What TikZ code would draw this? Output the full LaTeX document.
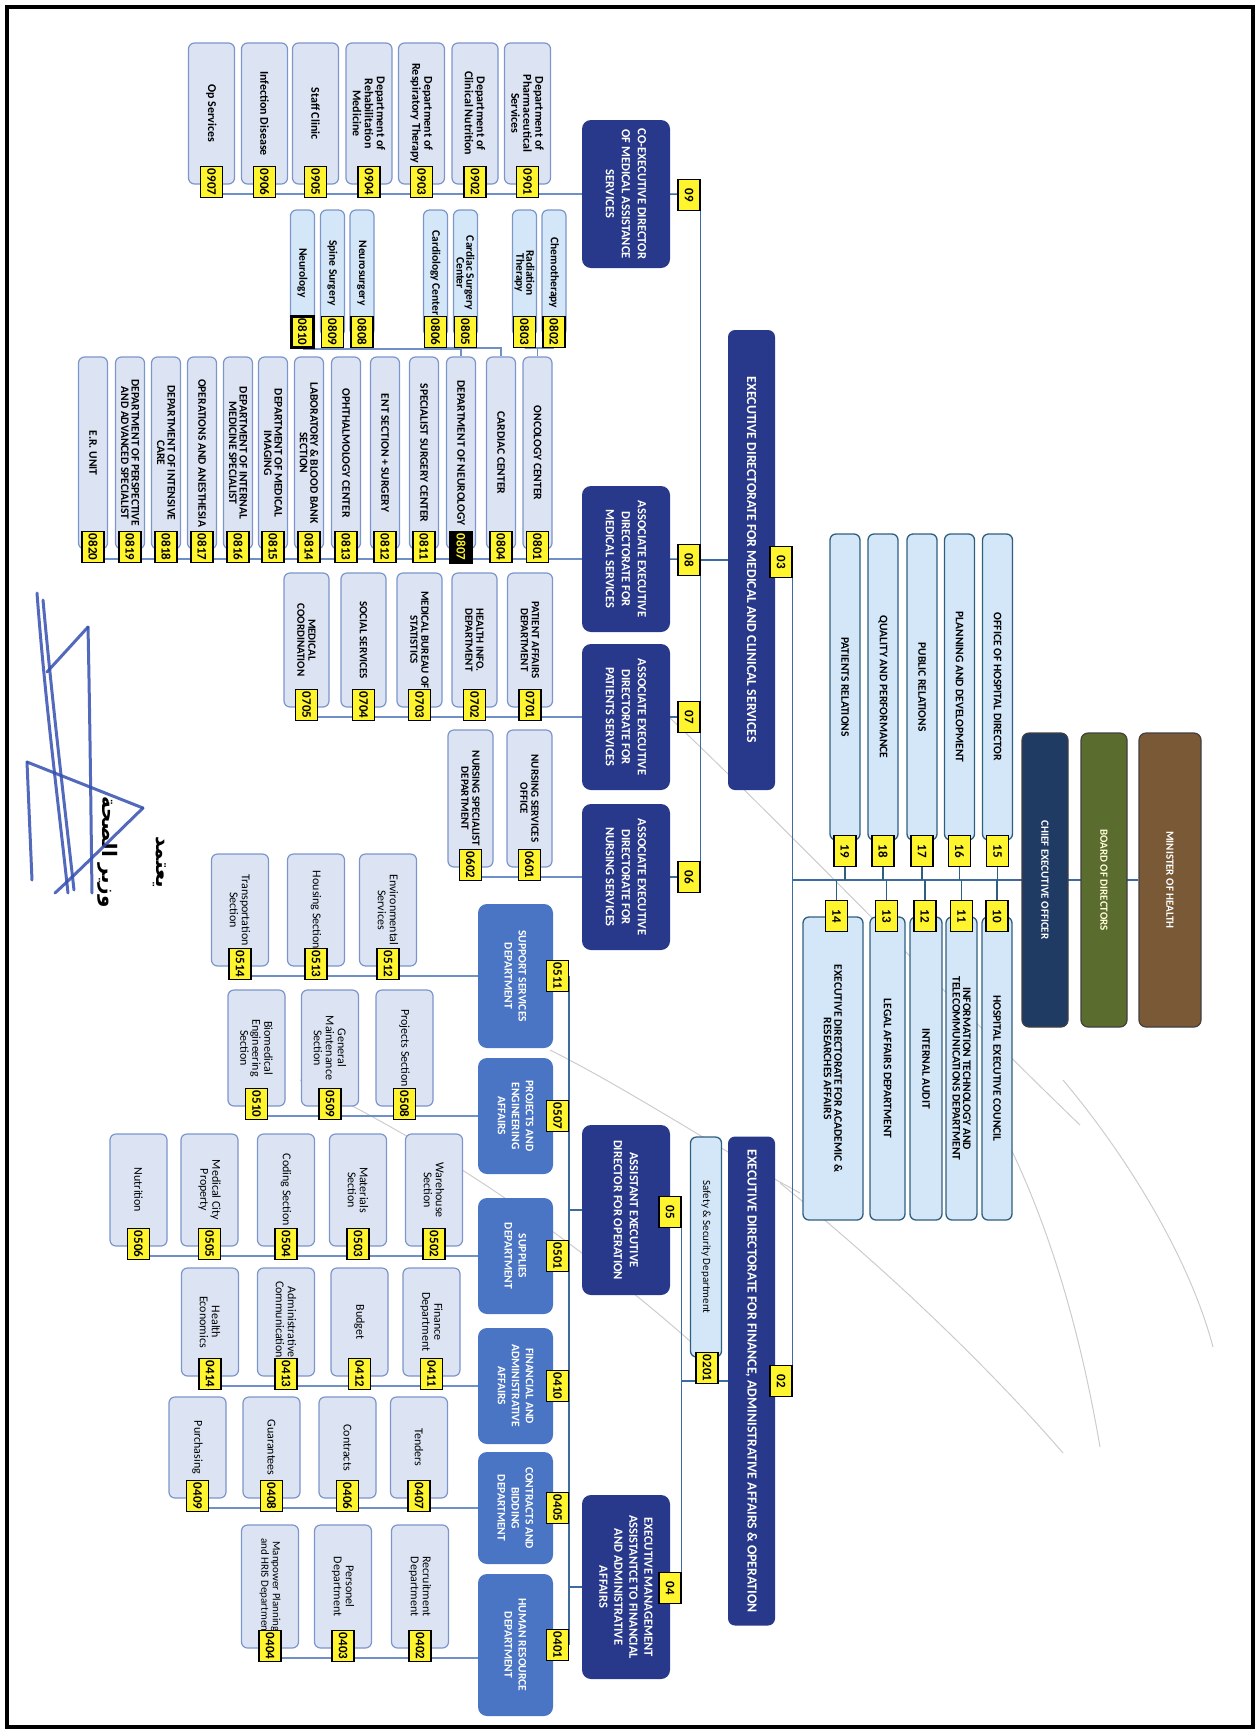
\documentclass[tikz,border=0pt]{standalone}
\usepackage{fontspec}
\setmainfont{Carlito}
\newfontfamily\arabicfont[Script=Arabic]{DejaVu Sans}
\TeXXeTstate=1
\usetikzlibrary{backgrounds}
\definecolor{navy}{HTML}{28388A}
\definecolor{ceoblue}{HTML}{1F3A63}
\definecolor{boardgreen}{HTML}{5A6C2E}
\definecolor{minbrown}{HTML}{7A5936}
\definecolor{midblue}{HTML}{4A74C4}
\definecolor{unitfill}{HTML}{DCE4F4}
\definecolor{unitline}{HTML}{7C95CB}
\definecolor{subfill}{HTML}{D4E7F8}
\definecolor{stafffill}{HTML}{D3E7F8}
\definecolor{staffline}{HTML}{2F5F80}
\definecolor{tagyellow}{HTML}{FFF52E}
\definecolor{linkblue}{HTML}{3E6A9E}
\definecolor{lowlink}{HTML}{6F8FC8}
\definecolor{inkblue}{HTML}{3550B0}

\begin{document}
\begin{tikzpicture}[x=1pt, y=1pt,
  top/.style={rotate=-90, draw=black!75, line width=1.2pt, rounded corners=7pt,
    text=white, align=center, inner sep=1pt,
    font=\fontsize{11}{12}\selectfont\bfseries},
  head/.style={rotate=-90, fill=navy, rounded corners=7pt, text=white,
    align=center, inner sep=1pt, font=\fontsize{13.8}{15}\selectfont\bfseries},
  dir/.style={rotate=-90, fill=navy, rounded corners=9pt, text=white,
    align=center, inner sep=1pt, minimum height=88pt,
    font=\fontsize{12.5}{16}\selectfont\bfseries},
  sec/.style={rotate=-90, fill=midblue, rounded corners=9pt, text=white,
    align=center, inner sep=1pt, minimum height=75pt,
    font=\fontsize{11.5}{14}\selectfont\bfseries},
  staff/.style={rotate=-90, draw=staffline, fill=stafffill, line width=1.3pt,
    rounded corners=6pt, align=center, inner sep=1pt,
    font=\fontsize{11.5}{10.5}\selectfont\bfseries},
  unit/.style={rotate=-90, draw=unitline, fill=unitfill, line width=1.2pt,
    rounded corners=6pt, align=center, inner sep=1pt,
    font=\fontsize{11.5}{10.5}\selectfont\bfseries},
  subunit/.style={unit, fill=subfill, minimum width=126pt, minimum height=24pt,
    font=\fontsize{11.5}{9.8}\selectfont\bfseries},
  section/.style={unit, minimum height=57pt,
    font=\fontsize{12}{12}\selectfont},
  tag/.style={rotate=-90, draw=black, fill=tagyellow, line width=1.2pt,
    inner sep=0pt, minimum width=31pt, minimum height=22pt,
    font=\fontsize{13}{13}\selectfont\bfseries},
  hltag/.style={tag, line width=3.2pt},
  darktag/.style={tag, fill=black, text=tagyellow, line width=2pt},
  link/.style={draw=linkblue, line width=1.5pt},
  lowl/.style={draw=lowlink, line width=1.5pt},
  scan/.style={draw=gray!40, line width=1pt},
  sig/.style={draw=inkblue, line width=3pt, line cap=round, line join=round, opacity=0.85}
]
\useasboundingbox (0,0) rectangle (1260,-1733);

% Top of the chart
\node[top, fill=minbrown, minimum width=294pt, minimum height=62pt] (moh) at (1170,-880) {MINISTER OF HEALTH};
\node[top, fill=boardgreen, minimum width=294pt, minimum height=46pt, text=white!85!yellow] (bod) at (1104,-880) {BOARD OF DIRECTORS};
\node[top, fill=ceoblue, minimum width=294pt, minimum height=46pt] (ceo) at (1045,-880) {CHIEF EXECUTIVE OFFICER};

% Offices attached to the CEO
\foreach \n/\cx/\txt in {15/997.5/{OFFICE OF HOSPITAL DIRECTOR}, 16/959.5/{PLANNING AND DEVELOPMENT},
    17/922/{PUBLIC RELATIONS}, 18/883/{QUALITY AND PERFORMANCE}, 19/845/{PATIENTS RELATIONS}} {
  \node[staff, minimum width=306pt, minimum height=30pt] (s\n) at (\cx,-687) {\txt};
  \node[tag] (t\n) at (\cx,-851) {\n};
}
\foreach \n/\cx/\bh/\txt in {10/997/30/{HOSPITAL EXECUTIVE COUNCIL},
    11/961.5/31/{INFORMATION TECHNOLOGY AND\\TELECOMMUNICATIONS DEPARTMENT},
    12/926/32/{INTERNAL AUDIT}, 13/887.5/35/{LEGAL AFFAIRS DEPARTMENT},
    14/833/60/{EXECUTIVE DIRECTORATE FOR ACADEMIC \&\\RESEARCHES AFFAIRS}} {
  \node[staff, minimum width=303pt, minimum height=\bh pt] (s\n) at (\cx,-1068.5) {\txt};
}
\foreach \n/\cx in {10/997, 11/961.5, 12/925, 13/886.5, 14/836.5}
  \node[tag] (t\n) at (\cx,-916) {\n};

% Executive directorates
\node[head, minimum width=460pt, minimum height=47pt] (b03) at (751.5,-560)
  {EXECUTIVE DIRECTORATE FOR MEDICAL AND CLINICAL SERVICES};
\node[tag] (t03) at (781,-562) {03};
\node[head, minimum width=489pt, minimum height=47pt] (b02) at (751.5,-1381)
  {EXECUTIVE DIRECTORATE FOR FINANCE, ADMINISTRATIVE AFFAIRS \& OPERATION};
\node[tag] (t02) at (781,-1381) {02};

% Medical side directorates
\node[dir, minimum width=148pt] (b09) at (626,-194) {CO-EXECUTIVE DIRECTOR\\OF MEDICAL ASSISTANCE\\SERVICES};
\node[tag] (t09) at (689,-195) {09};
\node[dir, minimum width=146pt] (b08) at (626,-559) {ASSOCIATE EXECUTIVE\\DIRECTORATE FOR\\MEDICAL SERVICES};
\node[tag] (t08) at (689,-560) {08};
\node[dir, minimum width=146pt] (b07) at (626,-717) {ASSOCIATE EXECUTIVE\\DIRECTORATE FOR\\PATIENTS SERVICES};
\node[tag] (t07) at (689,-717) {07};
\node[dir, minimum width=146pt] (b06) at (626,-877) {ASSOCIATE EXECUTIVE\\DIRECTORATE FOR\\NURSING SERVICES};
\node[tag] (t06) at (689,-877) {06};

% Finance side directorates
\node[staff, fill=subfill, minimum width=220pt, minimum height=31pt, font=\fontsize{11}{11}\selectfont] (b0201) at (706,-1247) {Safety \& Security Department};
\node[tag] (t0201) at (707,-1368) {0201};
\node[dir, minimum width=170pt] (b05) at (626,-1210) {ASSISTANT EXECUTIVE\\DIRECTOR FOR OPERATION};
\node[tag] (t05) at (670,-1212) {05};
\node[dir, minimum width=184pt, font=\fontsize{12.5}{15}\selectfont\bfseries] (b04) at (626,-1587)
  {EXECUTIVE MANAGEMENT\\ASSISTANTCE TO FINANCIAL\\AND ADMINISTRATIVE\\AFFAIRS};
\node[tag] (t04) at (670,-1588) {04};

% Medical assistance services
\foreach \code/\cx/\txt in {0907/211.5/{Op Services}, 0906/264.5/{Infection Disease},
    0905/315.5/{Staff Clinic}, 0904/369/{Department of\\Rehabilitation\\Medicine},
    0903/421.5/{Department of\\Respiratory Therapy}, 0902/475/{Department of\\Clinical Nutrition},
    0901/527.5/{Department of\\Pharmaceutical\\Services}} {
  \node[unit, minimum width=141pt, minimum height=46pt, font=\fontsize{12}{12}\selectfont\bfseries] (b\code) at (\cx,-113.5) {\txt};
  \node[tag] (t\code) at (\cx,-182) {\code};
}

% Medical services
\foreach \code/\cx/\tg/\txt in {0801/537.5/tag/{ONCOLOGY CENTER}, 0804/501/tag/{CARDIAC CENTER},
    0807/461/darktag/{DEPARTMENT OF NEUROLOGY}, 0811/424/tag/{SPECIALIST SURGERY CENTER},
    0812/385/tag/{ENT SECTION + SURGERY}, 0813/346/tag/{OPHTHALMOLOGY CENTER},
    0814/309/tag/{LABORATORY \& BLOOD BANK\\SECTION}, 0815/273/tag/{DEPARTMENT OF MEDICAL\\IMAGING},
    0816/238/tag/{DEPARTMENT OF INTERNAL\\MEDICINE SPECIALIST}, 0817/202/tag/{OPERATIONS AND ANESTHESIA},
    0818/166/tag/{DEPARTMENT OF INTENSIVE\\CARE}, 0819/130/tag/{DEPARTMENT OF PERSPECTIVE\\AND ADVANCED SPECIALIST},
    0820/93/tag/{E.R. UNIT}} {
  \node[unit, minimum width=192pt, minimum height=29pt] (b\code) at (\cx,-453) {\txt};
  \node[\tg] (t\code) at (\cx,-547) {\code};
}
\foreach \code/\cx/\tg/\txt in {0802/554/tag/{Chemotherapy}, 0803/524.5/tag/{Radiation\\Therapy},
    0805/465.5/tag/{Cardiac Surgery\\Center}, 0806/435.5/tag/{Cardiology Center},
    0808/362/tag/{Neurosurgery}, 0809/332.5/tag/{Spine Surgery}, 0810/302.5/hltag/{Neurology}} {
  \node[subunit] (b\code) at (\cx,-273) {\txt};
  \node[\tg] (t\code) at (\cx,-332) {\code};
}

% Patients services
\foreach \code/\cx/\txt in {0701/530/{PATIENT AFFAIRS\\DEPARTMENT}, 0702/474.5/{HEALTH INFO.\\DEPARTMENT},
    0703/419.5/{MEDICAL BUREAU OF\\STATISTICS}, 0704/363.5/{SOCIAL SERVICES},
    0705/306.5/{MEDICAL\\COORDINATION}} {
  \node[unit, minimum width=134pt, minimum height=45pt, font=\fontsize{11}{11}\selectfont\bfseries] (b\code) at (\cx,-640) {\txt};
  \node[tag] (t\code) at (\cx,-705) {\code};
}

% Nursing services
\foreach \code/\cx/\txt in {0601/529.5/{NURSING SERVICES\\OFFICE}, 0602/470.5/{NURSING SPECIALIST\\DEPARTMENT}} {
  \node[unit, minimum width=137pt, minimum height=45pt, font=\fontsize{11}{11}\selectfont\bfseries] (b\code) at (\cx,-798.5) {\txt};
  \node[tag] (t\code) at (\cx,-865) {\code};
}

% Operation and finance departments
\foreach \code/\cy/\bw/\txt in {0511/976/144/{SUPPORT SERVICES\\DEPARTMENT},
    0507/1116/116/{PROJECTS AND\\ENGINEERING\\AFFAIRS}, 0501/1256/116/{SUPPLIES\\DEPARTMENT},
    0410/1386/116/{FINANCIAL AND\\ADMINISTRATIVE\\AFFAIRS}, 0405/1508/112/{CONTRACTS AND\\BIDDING\\DEPARTMENT},
    0401/1645/142/{HUMAN RESOURCE\\DEPARTMENT}} {
  \node[sec, minimum width=\bw pt] (b\code) at (515.5,-\cy) {\txt};
  \node[tag] (t\code) at (557.5,-\cy) {\code};
}

% Sections
\foreach \code/\cx/\txt in {0512/388/{Environmental\\Services}, 0513/316/{Housing Section},
    0514/240/{Transportation\\Section}} {
  \node[section, minimum width=112pt] (b\code) at (\cx,-910) {\txt};
  \node[tag] (t\code) at (\cx,-964) {\code};
}
\foreach \code/\cx/\txt in {0508/404.5/{Projects Section}, 0509/330/{General\\Maintenance\\Section},
    0510/256.5/{Biomedical\\Engineering\\Section}} {
  \node[section, minimum width=116pt] (b\code) at (\cx,-1048) {\txt};
  \node[tag] (t\code) at (\cx,-1104) {\code};
}
\foreach \code/\cx/\txt in {0502/434/{Warehouse\\Section}, 0503/358/{Materials\\Section},
    0504/286/{Coding Section}, 0505/209.5/{Medical City\\Property}, 0506/138.5/{Nutrition}} {
  \node[section, minimum width=112pt] (b\code) at (\cx,-1190) {\txt};
  \node[tag] (t\code) at (\cx,-1244) {\code};
}
\foreach \code/\cx/\txt in {0411/431.5/{Finance\\Department}, 0412/359.5/{Budget},
    0413/286/{Administrative\\Communications}, 0414/210/{Health\\Economics}} {
  \node[section, minimum width=108pt] (b\code) at (\cx,-1322) {\txt};
  \node[tag] (t\code) at (\cx,-1374) {\code};
}
\foreach \code/\cx/\txt in {0407/419/{Tenders}, 0406/347.5/{Contracts},
    0408/271.5/{Guarantees}, 0409/197.5/{Purchasing}} {
  \node[section, minimum width=101pt] (b\code) at (\cx,-1447.5) {\txt};
  \node[tag] (t\code) at (\cx,-1496) {\code};
}
\foreach \code/\cx/\txt in {0402/420/{Recruitment\\Department}, 0403/343/{Personel\\Department}} {
  \node[section, minimum width=123pt] (b\code) at (\cx,-1586.5) {\txt};
  \node[tag] (t\code) at (\cx,-1646) {\code};
}
\node[section, minimum width=123pt, font=\fontsize{11}{11.5}\selectfont] (b0404) at (270,-1586.5) {Manpower Planning\\and HRIS Department};
\node[tag] (t0404) at (270,-1646) {0404};
\coordinate (busF) at (0,-1658);

% Approval
\node[rotate=-90, font=\arabicfont\bfseries\fontsize{20}{22}\selectfont] (appr) at (160,-862) {\beginR يعتمد\endR};
\node[rotate=-90, font=\arabicfont\bfseries\fontsize{20}{22}\selectfont] (minister) at (108,-852) {\beginR وزير الصحة\endR};
\draw[sig] (37,-593) .. controls (45,-700) and (58,-800) .. (68,-893);
\draw[sig] (43,-600) .. controls (52,-700) and (64,-800) .. (74,-890);
\draw[sig] (88,-627) -- (47,-672);
\draw[sig] (88,-627) .. controls (90,-720) and (91,-820) .. (92,-893);
\draw[sig] (27,-762) -- (32,-880);
\draw[sig] (27,-762) -- (143,-808);
\draw[sig] (143,-808) .. controls (110,-840) and (80,-870) .. (55,-893);

% Connectors
\begin{pgfonlayer}{background}
  % faint marks of the scan
  \draw[scan] (640,-690) .. controls (760,-800) and (950,-1000) .. (1080,-1125);
  \draw[scan] (780,-1183) .. controls (900,-1280) and (1000,-1380) .. (1063,-1453);
  \draw[scan] (1010,-1147) .. controls (1050,-1230) and (1080,-1330) .. (1100,-1447);
  \draw[scan] (1063,-1080) .. controls (1130,-1160) and (1190,-1260) .. (1213,-1347);
  \draw[scan] (550,-1050) .. controls (630,-1090) and (720,-1150) .. (800,-1193);
  \draw[scan] (300,-1080) .. controls (450,-1150) and (600,-1260) .. (700,-1350);
  \draw[link] (moh.south) -- (moh.south -| t03.north);
  \foreach \n in {10,...,19} \draw[link, draw=staffline] (t\n.center) -- (t\n.center |- ceo.center);
  \draw[link] (t03.north) -- (t02.north);
  % medical
  \draw[link] (t09.north) -- (t06.north);
  \draw[link] (b03.south) -- (b03.south -| t09.north);
  \foreach \n in {09,08,07,06} \draw[link] (b\n.north) -- (t\n.north);
  \draw[lowl] (b09.south) -- (b09.south -| t0907.center);
  \draw[lowl] (b08.south) -- (b08.south -| t0820.center);
  \draw[lowl] (b07.south) -- (b07.south -| t0705.center);
  \draw[lowl] (b06.south) -- (b06.south -| t0602.center);
  \draw[lowl] (t0802.east) -- (t0803.east) -| (b0801.west);
  \draw[lowl] (t0806.east) -| (b0804.west);
  \draw[lowl] (t0810.east) -| (b0807.west);
  % finance
  \draw[link] (t05.north) -- (t04.north);
  \draw[link] (b02.south) -- (b02.south -| t05.north);
  \draw[link] (t0511.north) -- (t0401.north);
  \draw[link] (b05.south) -- (b05.south -| t0511.north);
  \draw[link] (b04.south) -- (b04.south -| t0410.north);
  \draw[lowl] (b0511.south) -- (b0511.south -| t0514.center);
  \draw[lowl] (b0507.south) -- (b0507.south -| t0510.center);
  \draw[lowl] (b0501.south) -- (b0501.south -| t0506.center);
  \draw[lowl] (b0410.south) -- (b0410.south -| t0414.center);
  \draw[lowl] (b0405.south) -- (b0405.south -| t0409.center);
  \draw[lowl] (b0401.south |- busF) -- (t0404.center |- busF);
\end{pgfonlayer}

% Frame
\draw[line width=4.5pt] (7,-7) rectangle (1253,-1727);
\end{tikzpicture}
\end{document}
